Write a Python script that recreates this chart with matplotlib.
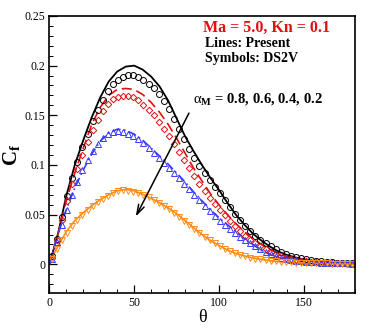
import matplotlib.pyplot as plt
import numpy as np
from matplotlib.ticker import MultipleLocator

plt.rcParams["font.family"] = ["Liberation Serif", "DejaVu Serif"]
plt.rcParams["mathtext.fontset"] = "custom"
plt.rcParams["mathtext.rm"] = "Liberation Serif"
plt.rcParams["mathtext.it"] = "Liberation Serif:italic"
plt.rcParams["mathtext.bf"] = "Liberation Serif:bold"

# Present results (lines), theta every 5 deg
theta_line = np.arange(0, 181, 5)
cf_line_08 = [0.0, 0.030, 0.069, 0.100, 0.125, 0.148, 0.168, 0.184, 0.194, 0.199,
              0.200, 0.196, 0.189, 0.179, 0.165, 0.147, 0.129, 0.114, 0.100, 0.087,
              0.075, 0.062, 0.050, 0.040, 0.031, 0.024, 0.018, 0.013, 0.0095, 0.007,
              0.005, 0.0035, 0.0025, 0.0018, 0.0013, 0.001, 0.0008]
cf_line_06 = [0.0, 0.030, 0.064, 0.092, 0.117, 0.141, 0.158, 0.170, 0.176, 0.177,
              0.176, 0.171, 0.163, 0.153, 0.141, 0.127, 0.112, 0.097, 0.084, 0.071,
              0.060, 0.050, 0.041, 0.033, 0.026, 0.020, 0.015, 0.011, 0.008, 0.006,
              0.0045, 0.0035, 0.0025, 0.002, 0.0015, 0.0012, 0.001]
cf_line_04 = [0.0, 0.030, 0.055, 0.077, 0.095, 0.111, 0.124, 0.132, 0.136, 0.135,
              0.131, 0.125, 0.117, 0.109, 0.101, 0.092, 0.083, 0.073, 0.064, 0.055,
              0.047, 0.040, 0.033, 0.026, 0.020, 0.014, 0.010, 0.007, 0.0052, 0.004,
              0.003, 0.0024, 0.0018, 0.0014, 0.0011, 0.0009, 0.0008]
cf_line_02 = [0.002, 0.018, 0.033, 0.044, 0.052, 0.059, 0.065, 0.070, 0.074, 0.0755,
              0.074, 0.0705, 0.0665, 0.062, 0.057, 0.051, 0.044, 0.037, 0.030, 0.024,
              0.019, 0.0145, 0.011, 0.0085, 0.0065, 0.005, 0.0037, 0.0028, 0.0021, 0.0016,
              0.0012, 0.001, 0.0008, 0.0006, 0.0005, 0.0004, 0.0003]

# DS2V results (symbols), theta every 3 deg
theta_sym = np.arange(1.5, 180, 3)
cf_sym_08 = [0.008, 0.026, 0.048, 0.069, 0.087, 0.103, 0.118, 0.131, 0.144, 0.155,
             0.165, 0.174, 0.181, 0.186, 0.189, 0.191, 0.191, 0.189, 0.186, 0.182,
             0.177, 0.171, 0.164, 0.156, 0.146, 0.136, 0.126, 0.116, 0.107, 0.099,
             0.092, 0.085, 0.078, 0.072, 0.065, 0.058, 0.051, 0.045, 0.039, 0.034,
             0.029, 0.025, 0.021, 0.018, 0.015, 0.012, 0.010, 0.0085, 0.007, 0.006,
             0.005, 0.004, 0.0035, 0.003, 0.0025, 0.002, 0.0017, 0.0015, 0.0013, 0.0011]
cf_sym_06 = [0.006, 0.025, 0.045, 0.064, 0.081, 0.096, 0.110, 0.123, 0.135, 0.145,
             0.154, 0.161, 0.166, 0.168, 0.169, 0.169, 0.168, 0.165, 0.160, 0.155,
             0.150, 0.143, 0.136, 0.129, 0.121, 0.113, 0.105, 0.097, 0.089, 0.081,
             0.074, 0.067, 0.061, 0.055, 0.050, 0.044, 0.039, 0.034, 0.029, 0.025,
             0.021, 0.018, 0.015, 0.012, 0.010, 0.008, 0.0065, 0.0055, 0.0045, 0.0038,
             0.003, 0.0025, 0.002, 0.0017, 0.0014, 0.0012, 0.001, 0.0009, 0.0008, 0.0007]
cf_sym_04 = [0.005, 0.022, 0.040, 0.055, 0.070, 0.083, 0.095, 0.105, 0.114, 0.121,
             0.127, 0.131, 0.133, 0.134, 0.133, 0.131, 0.129, 0.126, 0.122, 0.117,
             0.112, 0.107, 0.102, 0.097, 0.092, 0.087, 0.081, 0.076, 0.070, 0.065,
             0.059, 0.054, 0.049, 0.044, 0.040, 0.036, 0.032, 0.028, 0.024, 0.021,
             0.018, 0.015, 0.012, 0.010, 0.008, 0.0065, 0.0055, 0.0045, 0.0038, 0.0032,
             0.0027, 0.0023, 0.002, 0.0017, 0.0015, 0.0013, 0.0011, 0.001, 0.0009, 0.0008]
cf_sym_02 = [0.005, 0.015, 0.024, 0.032, 0.039, 0.045, 0.050, 0.055, 0.059, 0.063,
             0.066, 0.069, 0.072, 0.074, 0.0745, 0.074, 0.073, 0.072, 0.070, 0.0675,
             0.065, 0.062, 0.059, 0.056, 0.052, 0.048, 0.044, 0.040, 0.036, 0.032,
             0.028, 0.024, 0.021, 0.018, 0.0155, 0.013, 0.011, 0.0095, 0.008, 0.0068,
             0.0058, 0.005, 0.0043, 0.0037, 0.0032, 0.0028, 0.0024, 0.0021, 0.0018, 0.0016,
             0.0014, 0.0012, 0.0011, 0.001, 0.0009, 0.0008, 0.0007, 0.0006, 0.0006, 0.0005]

red = "#e01010"
blue = "#3a3aff"
orange = "#ff8c1a"

fig = plt.figure(figsize=(3.74, 3.32), dpi=100)
ax = fig.add_axes([0.132, 0.117, 0.816, 0.835])

ax.plot(theta_line, cf_line_08, color="black", lw=1.3)
ax.plot(theta_line, cf_line_06, color=red, lw=1.2, dashes=(6, 3))
ax.plot(theta_line, cf_line_04, color=blue, lw=1.2, dashes=(5, 2, 1, 2))
ax.plot(theta_line, cf_line_02, color=orange, lw=1.2)

ax.plot(theta_sym, cf_sym_08, "o", mfc="none", mec="black", ms=4.3, mew=0.7)
ax.plot(theta_sym, cf_sym_06, "D", mfc="none", mec=red, ms=3.3, mew=0.7)
ax.plot(theta_sym, cf_sym_04, "^", mfc="none", mec=blue, ms=4.0, mew=0.7)
ax.plot(theta_sym, cf_sym_02, "v", mfc="none", mec=orange, ms=4.0, mew=0.7)

ax.set_xlim(0, 180)
ax.set_ylim(-0.029, 0.25)
ax.xaxis.set_major_locator(MultipleLocator(50))
ax.xaxis.set_minor_locator(MultipleLocator(10))
ax.yaxis.set_major_locator(MultipleLocator(0.05))
ax.yaxis.set_minor_locator(MultipleLocator(0.01))
ax.set_xticks([0, 50, 100, 150])
ax.set_yticks([0, 0.05, 0.1, 0.15, 0.2, 0.25])
ax.set_yticklabels(["0", "0.05", "0.1", "0.15", "0.2", "0.25"])
ax.tick_params(which="both", direction="in", top=False, right=False, labelsize=8.5, pad=3)
ax.tick_params(which="major", length=6, width=0.9)
ax.tick_params(which="minor", length=3, width=0.7)
for s in ax.spines.values():
    s.set_linewidth(1.2)

ax.set_xlabel(r"θ", fontsize=13, labelpad=0)
ax.set_ylabel(r"$\mathbf{C}_{\mathbf{f}}$", fontsize=15, labelpad=2)

ax.text(90.5, 0.2375, "Ma = 5.0, Kn = 0.1", color=red, fontsize=11.5, fontweight="bold", va="center")
ax.text(91.5, 0.2218, "Lines: Present", color="black", fontsize=10, fontweight="bold", va="center")
ax.text(91.5, 0.2067, "Symbols: DS2V", color="black", fontsize=10, fontweight="bold", va="center")
ax.text(85, 0.1665, r"$\mathrm{α}_{\mathbf{M}}$ = 0.8, 0.6, 0.4, 0.2", color="black",
        fontsize=10.5, fontweight="bold", va="center")

ax.annotate("", xy=(50.2, 0.0456), xytext=(83.1, 0.1547),
            arrowprops=dict(arrowstyle="->,head_length=0.7,head_width=0.22", color="black", lw=1.1))

fig.savefig("out.png", dpi=100)
